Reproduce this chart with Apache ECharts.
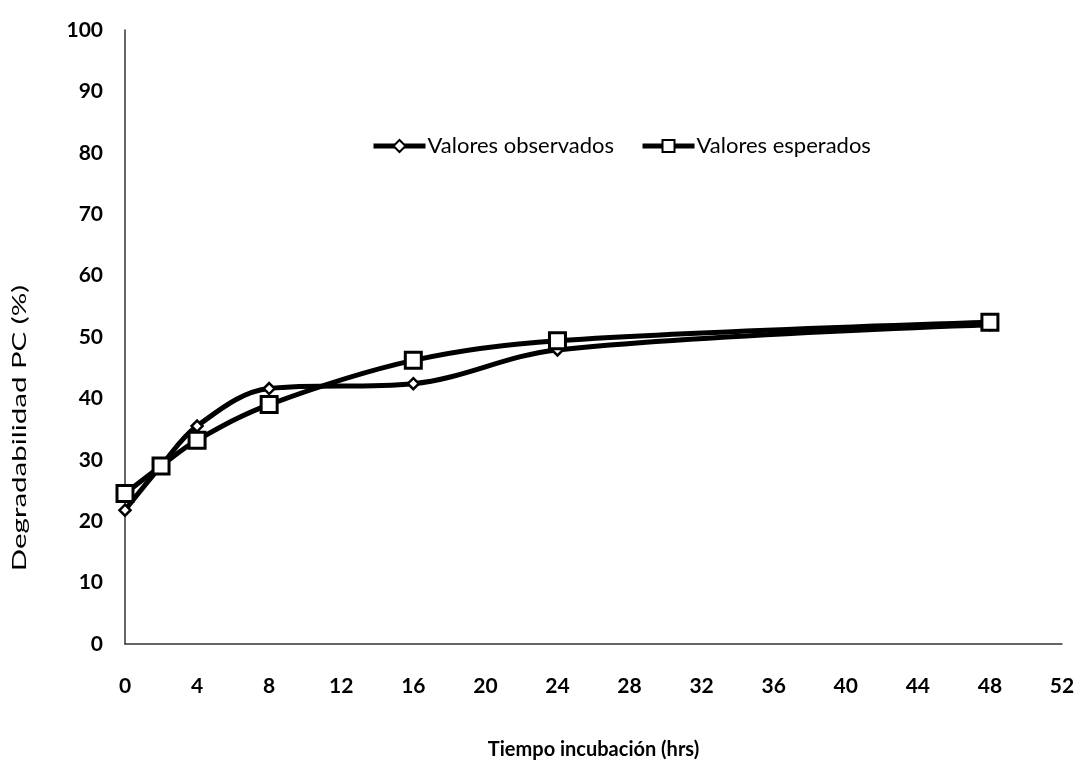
<!DOCTYPE html>
<html>
<head>
<meta charset="utf-8">
<script src="https://cdn.jsdelivr.net/npm/echarts@6/dist/echarts.min.js"></script>
<style>
  html, body { margin: 0; padding: 0; background: #fff; }
  #chart { width: 1078px; height: 765px; }
</style>
</head>
<body>
<div id="chart"></div>
<script>
// Incubation times (hrs) and degradability of crude protein (%)
const horas = [0, 2, 4, 8, 16, 24, 48];
const observados = [21.8, 29, 35.5, 41.6, 42.4, 47.9, 52];
const esperados = [24.5, 29, 33.2, 39, 46.2, 49.4, 52.4];
const nombreObservados = 'Valores observados';
const nombreEsperados = 'Valores esperados';
const tituloX = 'Tiempo incubación (hrs)';
const tituloY = 'Degradabilidad PC (%)';

const fuente = 'Lato, "Open Sans", sans-serif';

const chart = echarts.init(document.getElementById('chart'));
chart.setOption({
  backgroundColor: '#fff',
  animation: false,
  grid: { left: 125, right: 16, top: 30, bottom: 119 },
  legend: {
    left: 366, top: 130,
    itemWidth: 52, itemHeight: 15, itemGap: 26,
    lineStyle: { width: 5, color: '#000' },
    textStyle: { fontFamily: fuente, fontSize: 22, color: '#000', padding: [0, 0, 0, -3] },
    data: [nombreObservados, nombreEsperados]
  },
  // vertical axis title, stretched along its length
  graphic: [{
    type: 'text',
    x: 20, y: 428,
    rotation: Math.PI / 2,
    scaleX: 1.55,
    style: {
      text: tituloY,
      fontFamily: fuente, fontSize: 19, fill: '#000',
      align: 'center', verticalAlign: 'middle'
    }
  }],
  xAxis: {
    type: 'value', min: 0, max: 52, interval: 4,
    name: tituloX, nameLocation: 'middle', nameGap: 96,
    nameTextStyle: { fontFamily: fuente, fontSize: 20, fontWeight: 'bold', color: '#000' },
    axisLine: { lineStyle: { color: '#333', width: 1.5 } },
    axisTick: { show: false },
    splitLine: { show: false },
    axisLabel: { margin: 32, fontFamily: fuente, fontSize: 21, fontWeight: 'bold', color: '#000' }
  },
  yAxis: {
    type: 'value', min: 0, max: 100, interval: 10,
    axisLine: { show: true, lineStyle: { color: '#333', width: 1.5 } },
    axisTick: { show: false },
    splitLine: { show: false },
    axisLabel: { margin: 22, fontFamily: fuente, fontSize: 21, fontWeight: 'bold', color: '#000' }
  },
  series: [
    {
      name: nombreObservados, type: 'line', smooth: 0.35,
      data: horas.map((h, i) => [h, observados[i]]),
      symbol: 'diamond', symbolSize: 11,
      lineStyle: { color: '#000', width: 5 },
      itemStyle: { color: '#fff', borderColor: '#000', borderWidth: 2.5 },
      z: 2
    },
    {
      name: nombreEsperados, type: 'line', smooth: 0.35,
      data: horas.map((h, i) => [h, esperados[i]]),
      symbol: 'rect', symbolSize: 16,
      lineStyle: { color: '#000', width: 5 },
      itemStyle: { color: '#fff', borderColor: '#000', borderWidth: 3 },
      z: 3
    }
  ]
});
</script>
</body>
</html>
